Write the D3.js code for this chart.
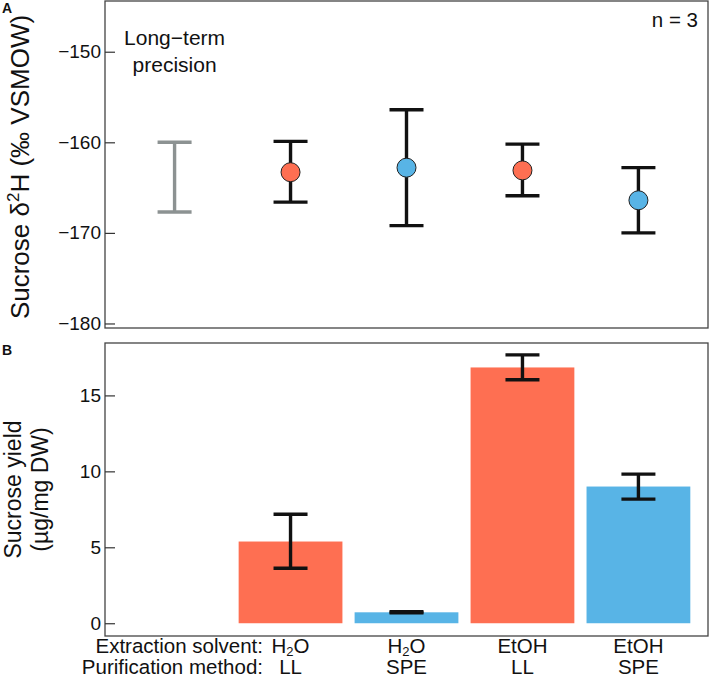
<!DOCTYPE html>
<html>
<head>
<meta charset="utf-8">
<script src="https://cdn.jsdelivr.net/npm/d3@7"></script>
<style>
  body { margin: 0; background: #fff; }
  text { font-family: "Liberation Sans", Arial, sans-serif; fill: #111; }
</style>
</head>
<body>
<div id="plot"></div>
<script>
// slots along x: long-term precision + 4 treatments
let slots = ['precision', 'H2O_LL', 'H2O_SPE', 'EtOH_LL', 'EtOH_SPE'];
let treatments = ['H2O_LL', 'H2O_SPE', 'EtOH_LL', 'EtOH_SPE'];
let solvent = ['H2O', 'H2O', 'EtOH', 'EtOH'];
let method = ['LL', 'SPE', 'LL', 'SPE'];

// panel A: delta2H mean, lower, upper
let d2hMean = [-163.3, -162.8, -163.1, -166.4];
let d2hLow = [-166.6, -169.2, -165.9, -170.0];
let d2hHigh = [-159.9, -156.4, -160.2, -162.8];
let precisionRange = [-167.7, -160.0];
let d2hTicks = [-150, -160, -170, -180];

// panel B: sucrose yield mean, lower, upper
let yieldMean = [5.38, 0.72, 16.84, 9.0];
let yieldLow = [3.62, 0.68, 16.03, 8.17];
let yieldHigh = [7.18, 0.76, 17.67, 9.82];
let yieldTicks = [0, 5, 10, 15];

let colors = {LL: '#fe6f52', SPE: '#58b4e6'};

let svgWidth = 709, svgHeight = 676;
let svg = d3.select('#plot').append('svg')
    .attr('width', svgWidth).attr('height', svgHeight);

let left = 105, right = 708;
let topA = 1, botA = 328;
let topB = 343, botB = 636;

let x = d3.scalePoint().domain(slots).range([left, right]).padding(0.6);
let step = x.step();

let yA = d3.scaleLinear().domain([-180.5, -144.4]).range([botA, topA]);
let yB = d3.scaleLinear().domain([-0.84, 18.45]).range([botB, topB]);

function frame(y0, y1) {
    svg.append('rect')
        .attr('x', left).attr('y', y0)
        .attr('width', right - left).attr('height', y1 - y0)
        .attr('fill', 'none').attr('stroke', '#444').attr('stroke-width', 1.3);
}
frame(topA, botA);
frame(topB, botB);

// y axes (ticks point inward)
function yAxis(scale, ticks) {
    let g = svg.append('g')
        .attr('transform', `translate(${left},0)`)
        .call(d3.axisRight(scale).tickValues(ticks).tickSize(10)
            .tickFormat(d => d < 0 ? '\u2212' + Math.abs(d) : d));
    g.select('.domain').remove();
    g.selectAll('.tick line').attr('stroke', '#333').attr('stroke-width', 1.2);
    g.selectAll('.tick text')
        .attr('x', -4).attr('text-anchor', 'end')
        .attr('font-size', 19).attr('fill', '#111')
        .style('font-family', '"Liberation Sans", Arial, sans-serif');
}
yAxis(yA, d2hTicks);
yAxis(yB, yieldTicks);

// error bars with caps
let capW = 34;
function errBar(cx, lo, hi, scale, color, width) {
    let g = svg.append('g').attr('stroke', color).attr('stroke-width', width);
    g.append('line').attr('x1', cx).attr('x2', cx).attr('y1', scale(lo)).attr('y2', scale(hi));
    g.append('line').attr('x1', cx - capW / 2).attr('x2', cx + capW / 2).attr('y1', scale(lo)).attr('y2', scale(lo));
    g.append('line').attr('x1', cx - capW / 2).attr('x2', cx + capW / 2).attr('y1', scale(hi)).attr('y2', scale(hi));
}

errBar(x('precision'), precisionRange[0], precisionRange[1], yA, '#8c9292', 3.4);
treatments.forEach((t, i) => errBar(x(t), d2hLow[i], d2hHigh[i], yA, '#111', 3.4));

svg.append('g').selectAll('circle')
    .data(treatments)
    .join('circle')
        .attr('cx', d => x(d))
        .attr('cy', (d, i) => yA(d2hMean[i]))
        .attr('r', 9.5)
        .attr('fill', (d, i) => colors[method[i]])
        .attr('stroke', '#222').attr('stroke-width', 1);

// panel B bars
let barW = step * 0.895;
svg.append('g').selectAll('rect')
    .data(treatments)
    .join('rect')
        .attr('x', d => x(d) - barW / 2)
        .attr('y', (d, i) => yB(yieldMean[i]))
        .attr('width', barW)
        .attr('height', (d, i) => yB(0) - yB(yieldMean[i]))
        .attr('fill', (d, i) => colors[method[i]]);

treatments.forEach((t, i) => errBar(x(t), yieldLow[i], yieldHigh[i], yB, '#111', 3.4));

// text annotations
svg.append('text').attr('x', 2).attr('y', 13).attr('font-size', 14).attr('font-weight', 'bold').text('A');
svg.append('text').attr('x', 2).attr('y', 355).attr('font-size', 14).attr('font-weight', 'bold').text('B');

let prec = svg.append('text').attr('text-anchor', 'middle').attr('font-size', 21);
prec.append('tspan').attr('x', x('precision')).attr('y', 45).text('Long\u2212term');
prec.append('tspan').attr('x', x('precision')).attr('y', 72).text('precision');

svg.append('text').attr('x', 698).attr('y', 27).attr('text-anchor', 'end')
    .attr('font-size', 20.5).text('n = 3');

// y titles
let tA = svg.append('text')
    .attr('transform', `translate(29,167) rotate(-90)`)
    .attr('text-anchor', 'middle').attr('font-size', 26);
tA.append('tspan').text('Sucrose \u03b4');
tA.append('tspan').attr('font-size', 17).attr('dy', -10).text('2');
tA.append('tspan').attr('dy', 10).text('H (\u2030 VSMOW)');

let tB = svg.append('text')
    .attr('transform', `translate(0,${(topB + botB) / 2}) rotate(-90)`)
    .attr('text-anchor', 'middle').attr('font-size', 23);
tB.append('tspan').attr('x', 0).attr('y', 21).text('Sucrose yield');
tB.append('tspan').attr('x', 0).attr('y', 48).text('(\u00b5g/mg DW)');

// category labels under panel B
svg.append('text').attr('x', 263).attr('y', 653).attr('text-anchor', 'end')
    .attr('font-size', 20.5).text('Extraction solvent:');
svg.append('text').attr('x', 263).attr('y', 674).attr('text-anchor', 'end')
    .attr('font-size', 20.5).text('Purification method:');

treatments.forEach((t, i) => {
    let s = svg.append('text').attr('x', x(t)).attr('y', 653)
        .attr('text-anchor', 'middle').attr('font-size', 20.5);
    if (solvent[i] === 'H2O') {
        s.append('tspan').text('H');
        s.append('tspan').attr('font-size', 13).attr('dy', 3).text('2');
        s.append('tspan').attr('dy', -3).text('O');
    } else {
        s.text(solvent[i]);
    }
    svg.append('text').attr('x', x(t)).attr('y', 674)
        .attr('text-anchor', 'middle').attr('font-size', 20.5).text(method[i]);
});
</script>
</body>
</html>
